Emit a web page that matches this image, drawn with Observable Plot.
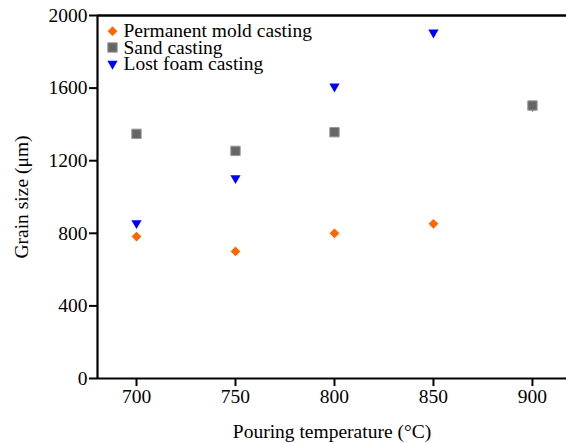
<!DOCTYPE html>
<html>
<head>
<meta charset="utf-8">
<script src="https://cdn.jsdelivr.net/npm/d3@7"></script>
<script src="https://cdn.jsdelivr.net/npm/@observablehq/plot@0.6"></script>
<style>
  html, body { margin: 0; padding: 0; background: #fff; }
  svg { display: block; }
</style>
</head>
<body>
<div id="chart"></div>
<script>
const temperatures = [700, 750, 800, 850, 900];
const seriesNames = ["Permanent mold casting", "Sand casting", "Lost foam casting"];
const permanentMold = [782, 700, 800, 852, 1495];
const sandCasting = [1348, 1254, 1357, null, 1504];
const lostFoam = [856, 1104, 1609, 1906, null];
const xTicks = [700, 750, 800, 850, 900];
const yTicks = [0, 400, 800, 1200, 1600, 2000];

const xDomain = [680.3, 917.2];
const yDomain = [0, 2000];

const styles = [
  {symbol: "diamond2", fill: "#ff6600", stroke: "none", r: 4.4, rotate: 0},
  {symbol: "square", fill: "#666666", stroke: "#9a9a9a", r: 5.3, rotate: 0},
  {symbol: "triangle", fill: "#0000ff", stroke: "none", r: 3.8, rotate: 180}
];
const valuesBySeries = [permanentMold, sandCasting, lostFoam];

const data = [];
seriesNames.forEach((s, si) => {
  temperatures.forEach((t, i) => {
    const v = valuesBySeries[si][i];
    if (v != null) data.push({series: s, si, temp: t, size: v});
  });
});

const marks = [];
styles.forEach((st, si) => {
  marks.push(Plot.dot(data.filter(d => d.si === si), {
    x: "temp", y: "size", symbol: st.symbol, r: st.r, fill: st.fill,
    stroke: st.stroke, strokeWidth: 1, rotate: st.rotate
  }));
});

// legend
styles.forEach((st, si) => {
  const row = [seriesNames[si]];
  marks.push(Plot.dot(row, {
    frameAnchor: "top-left", dx: 15, dy: 15.7 + si * 16.3,
    symbol: st.symbol, r: st.r, fill: st.fill, stroke: st.stroke, strokeWidth: 1, rotate: st.rotate
  }));
  marks.push(Plot.text(row, {
    frameAnchor: "top-left", dx: 26, dy: 15.7 + si * 16.3, text: d => d,
    textAnchor: "start", lineAnchor: "middle", fontSize: 19.5, fill: "#000"
  }));
});

const chart = Plot.plot({
  width: 566,
  height: 443,
  marginLeft: 97,
  marginRight: 0,
  marginTop: 15,
  marginBottom: 65,
  style: {fontFamily: "'Liberation Serif', 'Times New Roman', serif", fontSize: "19.5px", color: "#000", background: "#fff"},
  x: {domain: xDomain},
  y: {domain: yDomain},
  marks: [
    Plot.axisX({ticks: xTicks, tickFormat: d3.format("d"), tickSize: 8, tickPadding: 3, strokeWidth: 2, fontSize: 19.5,
      label: "Pouring temperature (°C)", labelAnchor: "center", labelArrow: "none", labelOffset: 59}),
    Plot.axisY({ticks: yTicks, tickFormat: d3.format("d"), tickSize: 8, tickPadding: 2, strokeWidth: 2, fontSize: 19.5,
      label: "Grain size (μm)", labelAnchor: "center", labelArrow: "none", labelOffset: 83}),
    Plot.ruleY([yDomain[0]], {strokeWidth: 2.2}),
    Plot.ruleY([yDomain[1]], {strokeWidth: 2.5}),
    Plot.ruleX([xDomain[0]], {strokeWidth: 2.2}),
    ...marks
  ]
});
document.getElementById("chart").appendChild(chart);
</script>
</body>
</html>
